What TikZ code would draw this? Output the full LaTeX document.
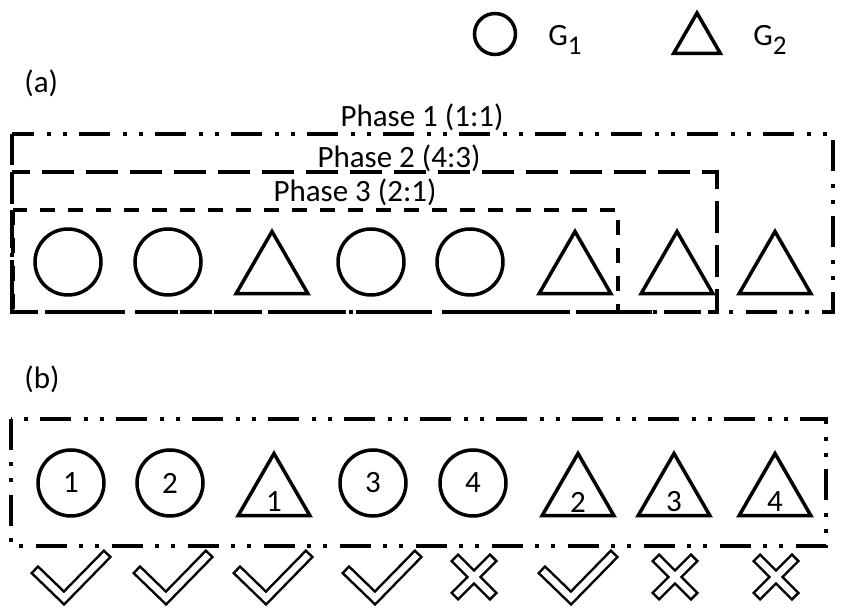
\documentclass[tikz,border=0pt]{standalone}
\usepackage{fontspec}
\setmainfont{Carlito}
\usetikzlibrary{shapes.geometric}

\newcommand{\grp}[1]{G\raisebox{-4.5pt}{\fontsize{13.5}{15}\selectfont #1}}
\newcommand{\okmark}[1]{%
	\draw[markout] (#1-30,569) -- (#1,598) -- (#1+44,553);
	\draw[markin] (#1-30,569) -- (#1,598) -- (#1+44,553);}
\newcommand{\nomark}[1]{%
	\draw[markout] (#1-20,557) -- (#1+20,597) (#1-20,597) -- (#1+20,557);
	\draw[markin] (#1-20,557) -- (#1+20,597);
	\draw[markin] (#1-20,597) -- (#1+20,557);}

\begin{document}
\begin{tikzpicture}[x=0.5pt,y=-0.5pt,font=\fontsize{15.5}{18}\selectfont]
	\tikzset{shp/.style={draw,line width=1.75pt,inner sep=0pt},
		circ/.style={shp,circle,minimum size=33pt},
		tri/.style={shp,regular polygon,regular polygon sides=3,minimum size=41.5pt},
		txt/.style={inner sep=0pt},
		ph1/.style={line width=1.6pt,dash pattern=on 15.5pt off 6pt on 2pt off 6pt on 2pt off 6.5pt},
		ph2/.style={line width=1.6pt,dash pattern=on 16pt off 6pt},
		ph3/.style={line width=1.6pt,dash pattern=on 7.5pt off 6.5pt},
		markout/.style={line width=5.75pt,line join=miter},
		markin/.style={white,line width=3.25pt,line join=miter,shorten <=1.25pt,shorten >=1.25pt}}
	\useasboundingbox (0,0) rectangle (841,608);
	
	% legend
	\node[circ,minimum size=20.5pt] (lg1) at (495,34) {};
	\node[txt,anchor=base west] (lg1txt) at (548,46) {\grp{1}};
	\node[tri,minimum size=27pt] (lg2) at (697,40) {};
	\node[txt,anchor=base west] (lg2txt) at (753,46) {\grp{2}};
	
	% (a)
	\node[txt,anchor=base west] (lbla) at (24,93) {(a)};
	\draw[ph1] (12,134) rectangle (833,312);
	\draw[ph2] (12,172) rectangle (717,312);
	\draw[ph3] (13,210) rectangle (618,312);
	\node[txt,anchor=base] (ph1txt) at (422,127) {Phase 1 (1:1)};
	\node[txt,anchor=base] (ph2txt) at (399,168) {Phase 2 (4:3)};
	\node[txt,anchor=base] (ph3txt) at (355,202) {Phase 3 (2:1)};
	\foreach \x/\n in {68/a1,168/a2,371/a4,470/a5}
	\node[circ] (\n) at (\x,262) {};
	\foreach \x/\n in {272/a3,575/a6,677/a7,775/a8}
	\node[tri] (\n) at (\x,273) {};
	
	% (b)
	\node[txt,anchor=base west] (lblb) at (24,389) {(b)};
	\draw[ph1] (11,419) rectangle (826,546);
	\foreach \x/\n/\d in {71/b1/1,170/b2/2,373/b4/3,473/b5/4}
	\node[circ] (\n) at (\x,483) {\d};
	\foreach \x/\n/\d in {274/b3/1,578/b6/2,674/b7/3,775/b8/4}
	{\node[tri] (\n) at (\x,495) {};
	\node[txt] (n\n) at ([yshift=-3.5pt]\n.center) {\d};}
	
	\okmark{64}
	\okmark{166}
	\okmark{266}
	\okmark{375}
	\nomark{474}
	\okmark{571}
	\nomark{675}
	\nomark{776}
\end{tikzpicture}
\end{document}
